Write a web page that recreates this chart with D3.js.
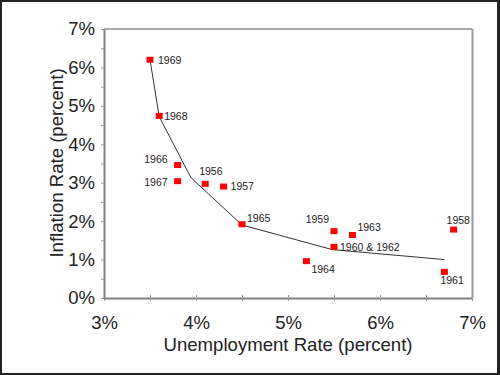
<!DOCTYPE html>
<html>
<head>
<meta charset="utf-8">
<script src="https://cdn.jsdelivr.net/npm/d3@7"></script>
<style>
  html, body { margin: 0; padding: 0; background: #fff; }
  svg { display: block; font-family: Arial, "Liberation Sans", sans-serif; }
</style>
</head>
<body>
<div id="chart"></div>
<script>
// Phillips curve data, 1956-1969 (unemployment %, inflation %)
const years = ["1956", "1957", "1958", "1959", "1960 & 1962", "1961", "1963", "1964", "1965", "1966", "1967", "1968", "1969"];
const unemployment = [4.1, 4.3, 6.8, 5.5, 5.5, 6.7, 5.7, 5.2, 4.5, 3.8, 3.8, 3.6, 3.5];
const inflation = [2.97, 2.9, 1.78, 1.74, 1.33, 0.68, 1.64, 0.96, 1.92, 3.46, 3.04, 4.74, 6.2];
// label offsets relative to the marker [dx, dy, anchor]
const labelPos = [
  [-6, -9, "start"], [7, 3, "start"], [-7, -6, "start"], [-5, -8, "end"],
  [6, 4, "start"], [-4, 12, "start"], [5, -4, "start"], [5, 12, "start"],
  [5, -2, "start"], [-10, -2, "end"], [-10, 5, "end"], [5, 4, "start"], [8, 4, "start"]
];
// fitted curve drawn through the scatter
const curveU = [3.5, 3.6, 3.93, 3.95, 4.5, 5.48, 6.7];
const curveI = [6.2, 4.72, 3.2, 3.12, 1.9, 1.26, 1.0];

const xTicks = [3, 3.5, 4, 4.5, 5, 5.5, 6, 6.5, 7];
const yTicks = [0, 0.5, 1, 1.5, 2, 2.5, 3, 3.5, 4, 4.5, 5, 5.5, 6, 6.5, 7];

const width = 500, height = 375;
const margin = { top: 29, right: 28, bottom: 77, left: 104 };

const svg = d3.select("#chart").append("svg")
  .attr("width", width)
  .attr("height", height);

// outer frame
svg.append("rect").attr("width", width).attr("height", height).attr("fill", "#222");
svg.append("rect").attr("x", 2).attr("y", 2).attr("width", 495).attr("height", 371).attr("fill", "#fff");

const x = d3.scaleLinear().domain([3, 7]).range([margin.left, width - margin.right]);
const y = d3.scaleLinear().domain([0, 7]).range([height - margin.bottom, margin.top]);

// plot box top/right
svg.append("line")
  .attr("x1", x(3)).attr("x2", x(7)).attr("y1", y(7)).attr("y2", y(7))
  .attr("stroke", "#555").attr("stroke-width", 1.2);
svg.append("line")
  .attr("x1", x(7) + 0.5).attr("x2", x(7) + 0.5).attr("y1", y(7)).attr("y2", y(0))
  .attr("stroke", "#999").attr("stroke-width", 2);

const pct = d => Number.isInteger(d) ? d + "%" : "";

// x axis (ticks outside + inside)
const xAxis = svg.append("g")
  .attr("transform", `translate(0,${y(0)})`)
  .call(d3.axisBottom(x).tickValues(xTicks).tickFormat(pct).tickSize(3).tickSizeOuter(0).tickPadding(15));
svg.append("g")
  .attr("transform", `translate(0,${y(0)})`)
  .call(d3.axisBottom(x).tickValues(xTicks).tickFormat("").tickSize(-3).tickSizeOuter(0))
  .select(".domain").remove();

const yAxis = svg.append("g")
  .attr("transform", `translate(${x(3)},0)`)
  .call(d3.axisLeft(y).tickValues(yTicks).tickFormat(pct).tickSize(3).tickSizeOuter(0).tickPadding(6));

[xAxis, yAxis].forEach(g => {
  g.select(".domain").attr("stroke", "#808080").attr("stroke-width", 2);
  g.selectAll(".tick text").attr("font-size", 18.5).attr("fill", "#222")
    .attr("font-family", "Arial, 'Liberation Sans', sans-serif");
});
svg.selectAll(".tick line").attr("stroke", "#999");

// axis titles
svg.append("text")
  .attr("x", 288).attr("y", 351)
  .attr("text-anchor", "middle")
  .attr("font-size", 18.6).attr("fill", "#222")
  .text("Unemployment Rate (percent)");
svg.append("text")
  .attr("transform", "translate(63,163) rotate(-90)")
  .attr("text-anchor", "middle")
  .attr("font-size", 18.6).attr("fill", "#222")
  .text("Inflation Rate (percent)");

// curve
const curveData = curveU.map((u, i) => ({ u, i: curveI[i] }));
svg.append("path")
  .datum(curveData)
  .attr("d", d3.line().x(d => x(d.u)).y(d => y(d.i)))
  .attr("fill", "none").attr("stroke", "#333").attr("stroke-width", 1);

// points
const pts = years.map((yr, k) => ({ yr, u: unemployment[k], i: inflation[k], lp: labelPos[k] }));
svg.append("g").selectAll("rect")
  .data(pts).join("rect")
  .attr("x", d => x(d.u) - 3.5)
  .attr("y", d => y(d.i) - 3)
  .attr("width", 7).attr("height", 6)
  .attr("fill", "#ff0000");

svg.append("g").selectAll("text")
  .data(pts).join("text")
  .attr("x", d => x(d.u) + d.lp[0])
  .attr("y", d => y(d.i) + d.lp[1])
  .attr("text-anchor", d => d.lp[2])
  .attr("font-size", 10.5).attr("fill", "#222")
  .text(d => d.yr);
</script>
</body>
</html>
